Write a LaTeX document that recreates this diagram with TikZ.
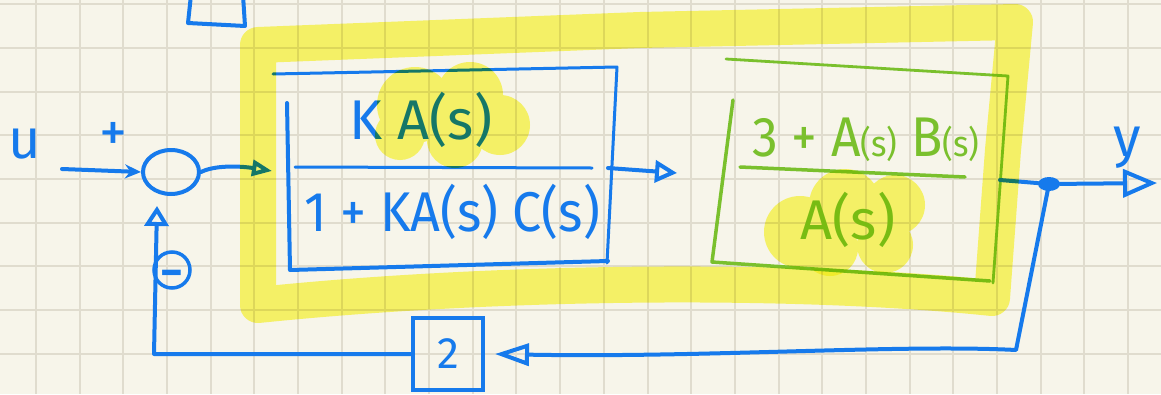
\documentclass[tikz,border=0pt]{standalone}
\usepackage{fontspec}
\setmainfont{Fira Sans}
\usetikzlibrary{arrows.meta,shapes.geometric}
\definecolor{bgcol}{RGB}{247,245,234}
\definecolor{gridcol}{RGB}{224,220,206}
\definecolor{penblue}{RGB}{22,122,236}
\definecolor{pengreen}{RGB}{122,192,45}
\definecolor{hilite}{RGB}{252,250,112}
\begin{document}
\begin{tikzpicture}[x=1pt,y=-1pt,
  bluepen/.style={draw=penblue, line width=4pt, line cap=round, line join=round},
  greenpen/.style={draw=pengreen, line width=3.5pt, line cap=round, line join=round},
  hand/.style={font=\fontsize{56}{60}\selectfont, inner sep=0pt},
  gridline/.style={draw=gridcol, line width=2pt},
  hilight/.style={draw=hilite, line width=36pt, line join=round, line cap=round}
]
\useasboundingbox (0,0) rectangle (1161,394);
\fill[bgcol] (0,0) rectangle (1161,394);
% grid
\foreach \i in {0,...,25} \draw[gridline] ({36+43.68*\i},0) -- ({36+43.68*\i},394);
\foreach \j in {0,...,8} \draw[gridline] (0,{4.2+43.68*\j}) -- (1161,{4.2+43.68*\j});

% partial box at top
\draw[bluepen] (191,-5) -- (188,23) -- (245,26) -- (243,-5);

% labels
\node[hand, text=penblue] (ulabel) at (25,144) {u};
\node[hand, text=penblue] (plus) at (113,137) {+};
\node[hand, text=penblue] (ylabel) at (1127,148) {y};

% summing junction
\node[draw=penblue, line width=4pt, ellipse, minimum width=56pt, minimum height=44pt, inner sep=0pt] (sum) at (171,172) {};
\node[draw=penblue, line width=3.5pt, circle, minimum size=36pt, inner sep=0pt] (minus) at (172,270) {};
\node[inner sep=0pt, text=penblue, font=\fontsize{44}{44}\selectfont\bfseries] (minusbar) at ([yshift=-9pt]minus.center) {−};

% block 1
\draw[bluepen, line width=3pt] (273,74) -- (617,67) -- (607,263);
\draw[bluepen] (287,103) -- (290,270) -- (608,261);
\draw[bluepen, line width=3pt] (295,167) -- (592,168);
\node[hand, text=penblue] (num1) at (421,120) {K A(s)};
\node[hand, text=penblue] (den1) at (452,212) {\scalebox{0.93}[1]{1 + KA(s) C(s)}};

% block 2
\draw[greenpen, line width=2.8pt] (726,59) -- (1008,76) -- (993,283);
\draw[greenpen] (733,100) -- (712,262) -- (990,281);
\draw[greenpen] (740,167) -- (965,177);
\node[hand, text=pengreen] (num2) at (866,140) {\scalebox{0.92}[1]{3 + A{\fontsize{36}{36}\selectfont(s)} B{\fontsize{36}{36}\selectfont(s)}}};
\node[hand, text=pengreen] (den2) at (848,220) {A(s)};

% feedback gain box
\node[draw=penblue, line width=4pt, minimum width=70pt, minimum height=72pt, inner sep=0pt, text=penblue, font=\fontsize{44}{44}\selectfont] (box2) at (448,354) {2};

% coordinates
\coordinate (uin) at (62,169);
\coordinate (b1in) at (272,171);
\coordinate (b1out) at (608,168);
\coordinate (a2tip) at (677,173);
\coordinate (b2out) at (1000,180);
\coordinate (ytip) at (1157,183);
\coordinate (fbc) at (1016,350);
\coordinate (fbl) at (154,354);
\coordinate (fbtip) at (157,206);
\node[fill=penblue, ellipse, minimum width=22pt, minimum height=14pt, inner sep=0pt] (bp) at (1049,184) {};

% connectors
\draw[bluepen, -{Stealth[length=16pt,width=14pt]}] (uin) -- (sum.west);
\draw[bluepen, -{Triangle[open,length=20pt,width=16pt]}] (sum.east) .. controls (215,165) and (240,166) .. (b1in);
\draw[bluepen, -{Triangle[open,length=22pt,width=22pt]}] (b1out) -- (a2tip);
\draw[bluepen] (b2out) -- (bp);
\draw[bluepen, -{Triangle[open,length=34pt,width=28pt]}] (bp) -- (ytip);
\draw[bluepen, -{Triangle[open,length=34pt,width=22pt]}] (bp) -- (fbc) .. controls (900,344) and (700,358) .. ([xshift=10pt]box2.east);
\draw[bluepen, -{Triangle[open,length=20pt,width=24pt]}] (box2.west) -- (fbl) -- (fbtip);

% highlighter
\begin{scope}[blend mode=multiply]
\draw[hilight] (258,45) -- (640,30) -- (1015,22) -- (1003,150) -- (992,298) .. controls (800,278) and (500,280) .. (258,305) -- cycle;
\fill[hilite] (415,105) circle[radius=38] (470,95) circle[radius=33] (500,125) circle[radius=30] (455,140) circle[radius=28] (400,135) circle[radius=25];
\fill[hilite] (800,232) circle[radius=36] (845,205) circle[radius=36] (895,205) circle[radius=30] (885,245) circle[radius=28] (830,248) circle[radius=28];
\end{scope}
\end{tikzpicture}
\end{document}
